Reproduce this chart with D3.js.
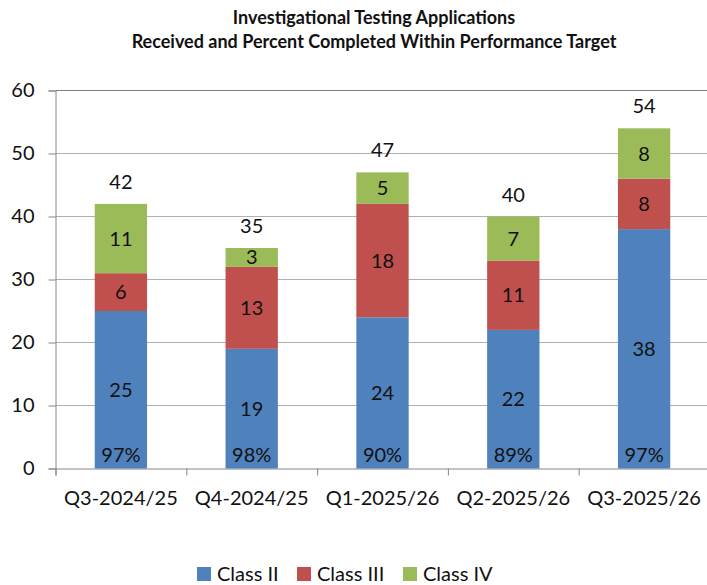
<!DOCTYPE html>
<html><head><meta charset="utf-8">
<script src="https://cdn.jsdelivr.net/npm/d3@7"></script>
<style>body{margin:0;background:#fff}svg{display:block;font-family:Lato,"Open Sans",sans-serif}</style>
</head><body>
<svg id="c" width="707" height="585"></svg>
<script>
const categories = ["Q3-2024/25","Q4-2024/25","Q1-2025/26","Q2-2025/26","Q3-2025/26"];
const classII  = [25,19,24,22,38];
const classIII = [6,13,18,11,8];
const classIV  = [11,3,5,7,8];
const totals   = [42,35,47,40,54];
const percents = ["97%","98%","90%","89%","97%"];
const seriesNames = ["Class II","Class III","Class IV"];
const colors = ["#4F81BD","#C0504D","#9BBB59"];
const yTicks = [0,10,20,30,40,50,60];
const titleLines = ["Investigational Testing Applications","Received and Percent Completed Within Performance Target"];

const svg = d3.select("#c");
const x0 = 55.5, step = 130.8;
const x = d3.scaleBand().domain(categories).range([x0, x0 + step*categories.length]).paddingInner(0.6).paddingOuter(0.3);
const y = d3.scaleLinear().domain([0,60]).range([468.5, 90.5]);

// title
svg.append("g").selectAll("text").data(titleLines).join("text")
  .attr("x", 374).attr("y", (d,i)=> 24 + i*24)
  .attr("text-anchor","middle").attr("font-size",18).attr("font-weight","bold").attr("fill","#111")
  .text(d=>d);

// gridlines
svg.append("g").selectAll("line").data(yTicks.filter(t=>t>0)).join("line")
  .attr("x1", x0).attr("x2", 707).attr("y1", d=>y(d)).attr("y2", d=>y(d))
  .attr("stroke", d=> d===60 ? "#7f7f7f" : "#b0b0b0").attr("stroke-width",1);

// y axis
const yAxis = d3.axisLeft(y).tickValues(yTicks).tickSize(7).tickPadding(14);
const ya = svg.append("g").attr("transform",`translate(${x0},0)`).call(yAxis);
ya.selectAll("path,line").attr("stroke","#868686");
ya.selectAll("text").attr("font-size",20).attr("fill","#111").attr("font-family","Lato,sans-serif");

// x axis
const xt = d3.scaleLinear().domain([0,categories.length]).range([x0, x0+step*categories.length]);
const xa = svg.append("g").attr("transform",`translate(0,${y(0)})`)
  .call(d3.axisBottom(xt).tickValues(d3.range(0,categories.length+1)).tickSize(7).tickFormat(""));
xa.selectAll("path,line").attr("stroke","#868686");
svg.append("g").selectAll("text").data(categories).join("text")
  .attr("x", d=> x(d)+x.bandwidth()/2).attr("y", 505)
  .attr("text-anchor","middle").attr("font-size",20).attr("fill","#111").text(d=>d);

// stacked bars
const rows = categories.map((c,i)=>({cat:c, "Class II":classII[i], "Class III":classIII[i], "Class IV":classIV[i]}));
const stack = d3.stack().keys(seriesNames)(rows);
const g = svg.append("g");
stack.forEach((s,si)=>{
  g.selectAll(null).data(s).join("rect")
    .attr("x", d=>x(d.data.cat)).attr("width", x.bandwidth())
    .attr("y", d=>y(d[1])).attr("height", d=>y(d[0])-y(d[1]))
    .attr("fill", colors[si]);
  g.selectAll(null).data(s).join("text")
    .attr("x", d=>x(d.data.cat)+x.bandwidth()/2)
    .attr("y", d=>(y(d[0])+y(d[1]))/2 + 7)
    .attr("text-anchor","middle").attr("font-size",20).attr("fill","#111")
    .text(d=>d[1]-d[0]);
});
// totals
g.selectAll(null).data(categories).join("text")
  .attr("x", d=>x(d)+x.bandwidth()/2).attr("y", (d,i)=> y(totals[i]) - 15)
  .attr("text-anchor","middle").attr("font-size",20).attr("fill","#111")
  .text((d,i)=>totals[i]);
// percents
g.selectAll(null).data(categories).join("text")
  .attr("x", d=>x(d)+x.bandwidth()/2).attr("y", 462)
  .attr("text-anchor","middle").attr("font-size",20).attr("fill","#111")
  .text((d,i)=>percents[i]);

// legend
const legX = [197, 297, 403];
const lg = svg.append("g").selectAll("g").data(seriesNames).join("g")
  .attr("transform",(d,i)=>`translate(${legX[i]},567)`);
lg.append("rect").attr("width",14).attr("height",14).attr("fill",(d,i)=>colors[i]);
lg.append("text").attr("x",20).attr("y",14).attr("font-size",20).attr("fill","#111").text(d=>d);
</script>
</body></html>
